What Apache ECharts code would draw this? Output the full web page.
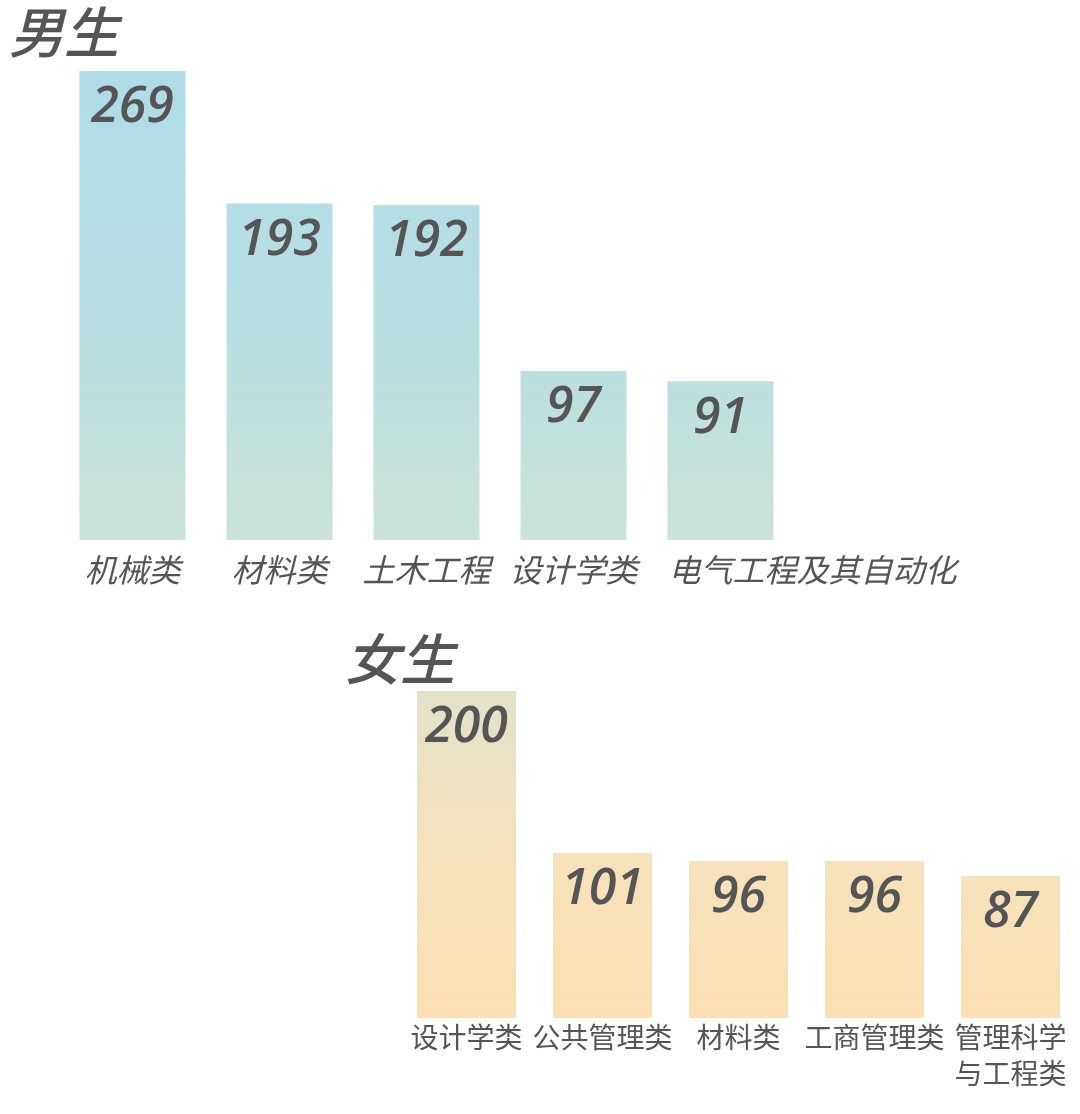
<!DOCTYPE html>
<html>
<head>
<meta charset="utf-8">
<script src="https://cdn.jsdelivr.net/npm/echarts@6/dist/echarts.min.js"></script>
<style>html,body{margin:0;padding:0;background:#fff}#c{width:1080px;height:1114px}</style>
</head>
<body>
<div id="c"></div>
<script>
const maleTitle = '男生';
const femaleTitle = '女生';
const maleCategories = ['机械类', '材料类', '土木工程', '设计学类', '电气工程及其自动化'];
const maleValues = [269, 193, 192, 97, 91];
const femaleCategories = ['设计学类', '公共管理类', '材料类', '工商管理类', '管理科学\n与工程类'];
const femaleValues = [200, 101, 96, 96, 87];

const chart = echarts.init(document.getElementById('c'));
const textColor = '#555555';
const cjk = '"Noto Sans CJK SC", "Noto Sans", sans-serif';
const num = '"Open Sans", "Noto Sans", sans-serif';

const maleGrad = new echarts.graphic.LinearGradient(0, 71, 0, 540, [
  {offset: 0, color: '#b0dbe8'},
  {offset: 0.6, color: '#b9dfe0'},
  {offset: 1, color: '#cbe3d8'}
], true);
const femaleGrad = new echarts.graphic.LinearGradient(0, 691, 0, 1018, [
  {offset: 0, color: '#e2e2c8'},
  {offset: 0.5, color: '#f6e2bd'},
  {offset: 1, color: '#fcdfb3'}
], true);

const labelStyle = {
  show: true, position: 'insideTop', distance: 12,
  fontFamily: num, fontStyle: 'italic', fontWeight: 600, fontSize: 50, color: textColor
};

// the last (long) male label starts near its bar's left edge instead of being centred
const maleAxisData = maleCategories.map((c, i) =>
  i === maleCategories.length - 1
    ? {value: c, textStyle: {align: 'left', padding: [0, 0, 0, -52]}}
    : c);

chart.setOption({
  animation: false,
  backgroundColor: '#ffffff',
  title: [
    {text: maleTitle, left: 4, top: 0, textStyle: {fontFamily: cjk, fontStyle: 'italic', fontWeight: 500, fontSize: 55, color: textColor}},
    {text: femaleTitle, left: 340, top: 627, textStyle: {fontFamily: cjk, fontStyle: 'italic', fontWeight: 500, fontSize: 55, color: textColor}}
  ],
  grid: [
    {left: 59, width: 735, top: 71, height: 469},
    {left: 398.5, width: 680, top: 691, height: 327}
  ],
  xAxis: [
    {type: 'category', gridIndex: 0, data: maleAxisData,
     axisLine: {show: false}, axisTick: {show: false},
     axisLabel: {interval: 0, margin: 14, fontFamily: cjk, fontStyle: 'italic', fontSize: 32, color: textColor}},
    {type: 'category', gridIndex: 1, data: femaleCategories,
     axisLine: {show: false}, axisTick: {show: false},
     axisLabel: {interval: 0, margin: 1, fontFamily: cjk, fontSize: 28, lineHeight: 36, color: textColor}}
  ],
  yAxis: [
    {type: 'value', gridIndex: 0, min: 0, max: 'dataMax', show: false, splitLine: {show: false}},
    {type: 'value', gridIndex: 1, min: 0, max: 'dataMax', show: false, splitLine: {show: false}}
  ],
  series: [
    {type: 'bar', xAxisIndex: 0, yAxisIndex: 0, data: maleValues, barWidth: 106,
     itemStyle: {color: maleGrad}, label: labelStyle},
    {type: 'bar', xAxisIndex: 1, yAxisIndex: 1, data: femaleValues, barWidth: 99,
     itemStyle: {color: femaleGrad}, label: labelStyle}
  ]
});
</script>
</body>
</html>
